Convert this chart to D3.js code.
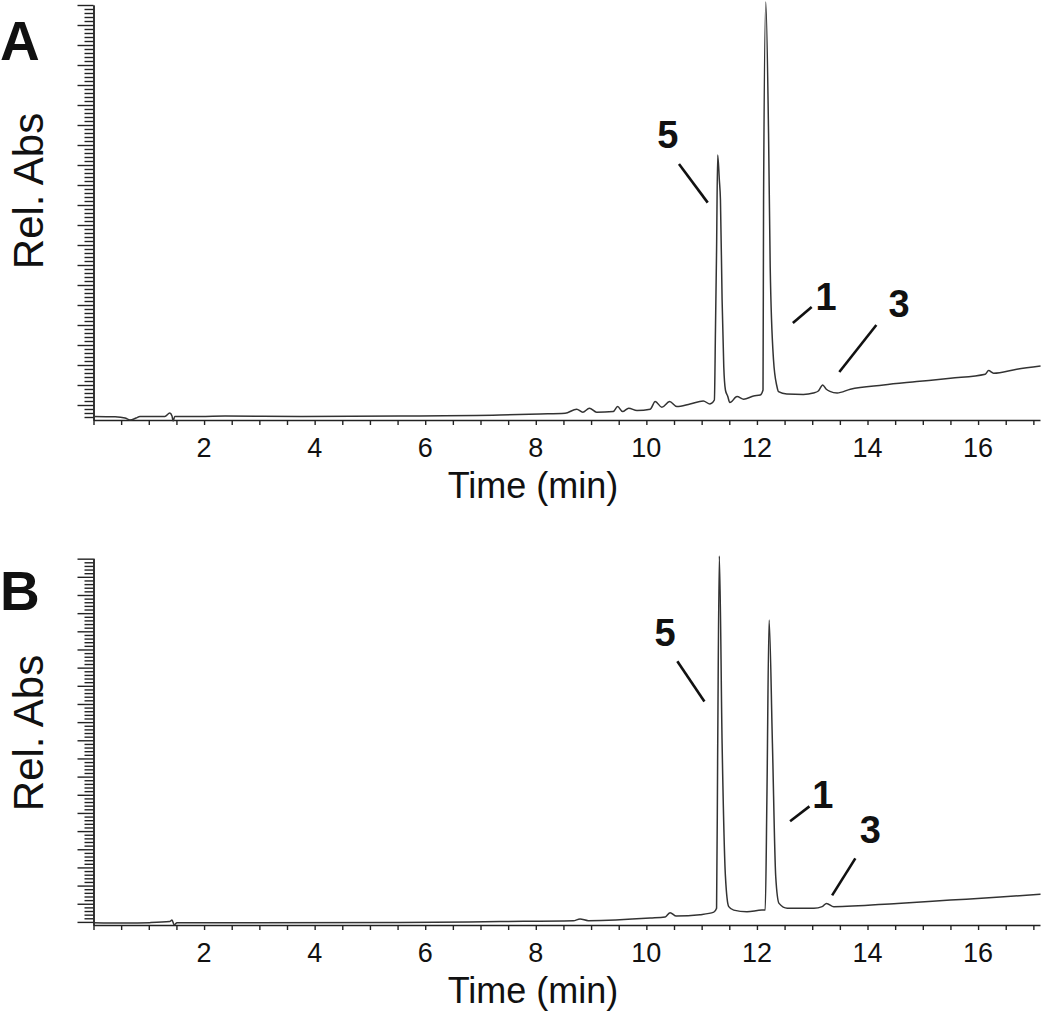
<!DOCTYPE html>
<html>
<head>
<meta charset="utf-8">
<script src="https://cdn.jsdelivr.net/npm/d3@7"></script>
<style>
  body { margin: 0; background: #fff; }
  svg { display: block; }
  text { font-family: "Liberation Sans", Arial, Helvetica, sans-serif; fill: #111; }
</style>
</head>
<body>
<svg id="chart" width="1050" height="1016"></svg>
<script>
// chromatogram A (time in min, relative absorbance in axis units)
var timeA = [0, 0.39, 0.57, 0.66, 0.77, 0.84, 1.29, 1.38, 1.42, 1.44, 1.47, 1.93, 2.38, 3.74, 5.55, 7.35,
    8.08, 8.53, 8.74, 8.85, 8.97, 9.10, 9.40, 9.48, 9.57, 9.68, 9.83, 10.07, 10.16, 10.28, 10.42, 10.55,
    10.79, 11.03, 11.15, 11.23, 11.25, 11.27, 11.29, 11.32, 11.34, 11.37, 11.40, 11.43, 11.47, 11.51,
    11.64, 11.76, 11.94, 12.06, 12.11, 12.12, 12.16, 12.21, 12.24, 12.30, 12.36, 12.39, 12.54, 12.84,
    13.02, 13.11, 13.19, 13.25, 13.32, 13.45, 13.69, 14.29, 14.89, 15.50, 16.13, 16.19, 16.28, 16.70, 17.13];
var absA = [0.43, 0.41, 0.35, 0.25, 0.35, 0.43, 0.43, 0.60, 0.45, 0.20, 0.43, 0.43, 0.45, 0.43, 0.45, 0.50,
    0.55, 0.59, 0.79, 0.64, 0.84, 0.64, 0.67, 0.92, 0.67, 0.84, 0.72, 0.79, 1.17, 0.89, 1.17, 0.92,
    1.05, 1.20, 1.05, 1.25, 4.75, 8.75, 13.5, 12.25, 11.25, 6.25, 2.92, 1.75, 1.45, 1.12,
    1.42, 1.29, 1.45, 1.50, 1.75, 11.25, 21.15, 14.6, 7.9, 3.25, 1.95, 1.67, 1.55, 1.53,
    1.60, 1.70, 2.00, 1.80, 1.68, 1.60, 1.79, 2.00, 2.17, 2.34, 2.54, 2.72, 2.59, 2.79, 2.95];

// chromatogram B
var timeB = [0, 0.57, 1.02, 1.38, 1.42, 1.46, 1.51, 2.83, 5.55, 7.35, 8.68, 8.80, 8.95, 10.07, 10.34,
    10.43, 10.54, 10.97, 11.22, 11.27, 11.29, 11.32, 11.37, 11.43, 11.49, 11.58, 11.82, 12.09, 12.15,
    12.18, 12.22, 12.28, 12.34, 12.40, 12.55, 13.03, 13.18, 13.26, 13.39, 14.54, 15.50, 16.40, 17.13];
var absB = [0.96, 0.94, 0.96, 1.02, 1.10, 0.83, 0.96, 0.96, 0.97, 1.02, 1.06, 1.16, 1.07, 1.21, 1.27,
    1.51, 1.32, 1.40, 1.54, 1.75, 10.46, 21.15, 10.83, 3.52, 1.84, 1.65, 1.56, 1.65, 1.65,
    7.71, 17.62, 10.83, 3.49, 2.02, 1.75, 1.75, 1.84, 2.02, 1.84, 2.02, 2.20, 2.37, 2.53];

var xTickLabels = [2, 4, 6, 8, 10, 12, 14, 16];
var panelNames = ['A', 'B'];

// compound labels: text, label anchor (t, v) and leader line (t1, v1, t2, v2)
var peakNames = ['5', '1', '3'];
var labelPosA = [[10.39, 13.85], [13.25, 5.75], [14.57, 5.40]];
var leaderA = [[10.59, 13.05, 11.11, 11.12], [12.99, 5.90, 12.65, 5.10], [14.16, 5.00, 13.49, 2.65]];
var labelPosB = [[10.34, 16.17], [13.19, 7.25], [14.05, 5.32]];
var leaderB = [[10.56, 15.35, 11.05, 13.14], [12.95, 7.36, 12.60, 6.54], [13.78, 4.50, 13.36, 2.46]];

var svg = d3.select('#chart');

var x = d3.scaleLinear().domain([0, 17.12]).range([93.5, 1040]);

function drawPanel(opts) {
    var y = opts.y,
        y0 = y.range()[0],
        g = svg.append('g');

    // y axis: minor ticks every 0.2, major every 1
    var lo = Math.ceil(y.domain()[0] * 5) / 5,
        minor = d3.range(lo, y.domain()[1] + 0.001, 0.2).filter(function (d) {
            return Math.abs(d - Math.round(d)) > 0.01;
        }),
        major = d3.range(Math.ceil(y.domain()[0]), y.domain()[1] + 0.001, 1);

    g.append('g')
        .attr('transform', 'translate(' + x.range()[0] + ',0)')
        .call(d3.axisLeft(y).tickValues(minor).tickSize(9).tickSizeOuter(0).tickFormat(''));
    g.append('g')
        .attr('transform', 'translate(' + x.range()[0] + ',0)')
        .call(d3.axisLeft(y).tickValues(major).tickSize(16).tickSizeOuter(0).tickFormat(''));

    // x axis: ticks every half minute
    g.append('g')
        .attr('transform', 'translate(0,' + y0 + ')')
        .call(d3.axisBottom(x).tickValues(d3.range(0, 17.01, 0.5)).tickSize(5).tickSizeOuter(0).tickFormat(''));

    g.selectAll('.domain, .tick line')
        .attr('stroke', '#222')
        .attr('stroke-width', 1.4);

    g.selectAll('.xlab')
        .data(xTickLabels).enter()
        .append('text')
        .attr('class', 'xlab')
        .attr('x', function (d) { return x(d); })
        .attr('y', y0 + 37)
        .attr('text-anchor', 'middle')
        .attr('font-size', 27)
        .text(function (d) { return d; });

    g.append('text')
        .attr('x', 533)
        .attr('y', y0 + 78)
        .attr('text-anchor', 'middle')
        .attr('font-size', 36)
        .text('Time (min)');

    g.append('text')
        .attr('transform', 'translate(43,' + opts.absY + ') rotate(-90)')
        .attr('text-anchor', 'middle')
        .attr('font-size', 42)
        .text('Rel. Abs');

    g.append('text')
        .attr('x', 0)
        .attr('y', opts.letterY)
        .attr('font-size', 55)
        .attr('font-weight', 'bold')
        .text(opts.name);

    // the trace
    var line = d3.line()
        .curve(d3.curveMonotoneX)
        .x(function (d) { return x(d[0]); })
        .y(function (d) { return y(d[1]); });

    g.append('path')
        .datum(d3.zip(opts.time, opts.abs))
        .attr('fill', 'none')
        .attr('stroke', '#333')
        .attr('stroke-width', 1.5)
        .attr('stroke-linejoin', 'round')
        .attr('d', line);

    // peak labels and leader lines
    g.selectAll('.leader')
        .data(opts.leader).enter()
        .append('line')
        .attr('class', 'leader')
        .attr('x1', function (d) { return x(d[0]); })
        .attr('y1', function (d) { return y(d[1]); })
        .attr('x2', function (d) { return x(d[2]); })
        .attr('y2', function (d) { return y(d[3]); })
        .attr('stroke', '#111')
        .attr('stroke-width', 2.6);

    g.selectAll('.peak')
        .data(opts.labelPos).enter()
        .append('text')
        .attr('class', 'peak')
        .attr('x', function (d) { return x(d[0]); })
        .attr('y', function (d) { return y(d[1]); })
        .attr('text-anchor', 'middle')
        .attr('font-size', 38)
        .attr('font-weight', 'bold')
        .text(function (d, i) { return peakNames[i]; });
}

drawPanel({
    name: panelNames[0],
    y: d3.scaleLinear().domain([0.25, 21]).range([420, 5]),
    time: timeA, abs: absA,
    labelPos: labelPosA, leader: leaderA,
    absY: 191, letterY: 60
});

drawPanel({
    name: panelNames[1],
    y: d3.scaleLinear().domain([0.83, 21.02]).range([925, 558.3]),
    time: timeB, abs: absB,
    labelPos: labelPosB, leader: leaderB,
    absY: 733, letterY: 610
});
</script>
</body>
</html>
